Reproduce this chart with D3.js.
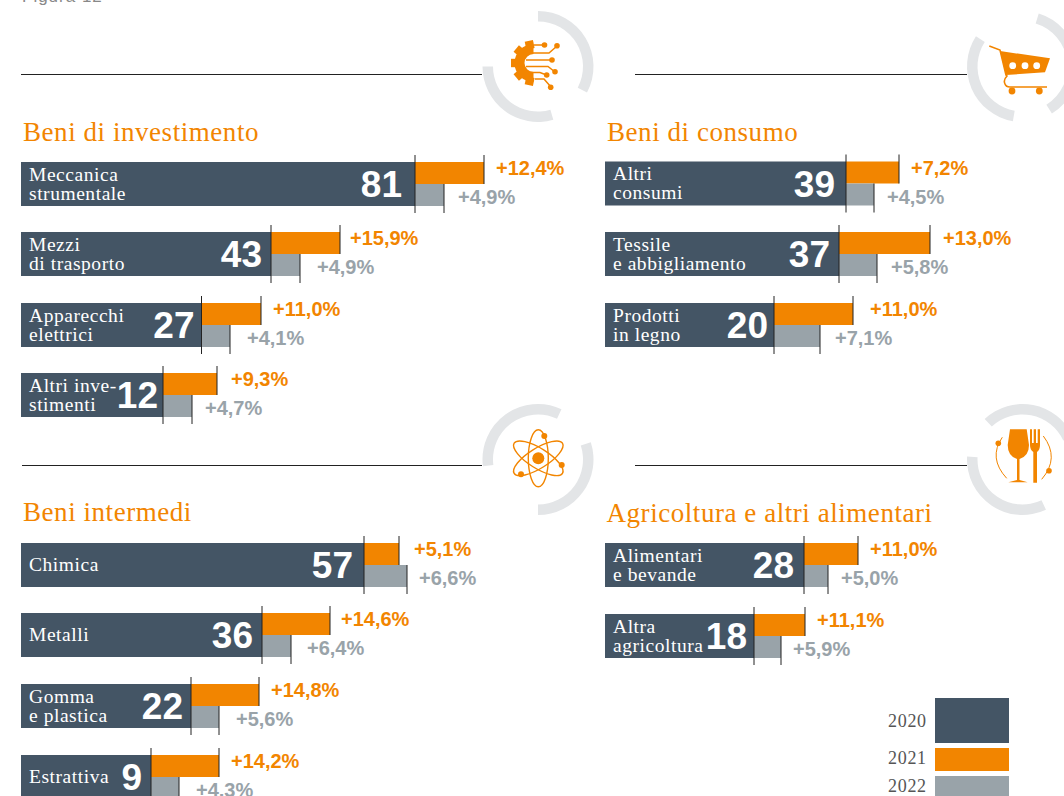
<!DOCTYPE html>
<html><head><meta charset="utf-8">
<script src="https://cdn.jsdelivr.net/npm/d3@7"></script>
<style>html,body{margin:0;padding:0;background:#fff;overflow:hidden}svg{display:block}</style>
</head><body><svg id="c" width="1064" height="796"></svg>
<script>
// Panels
const panelTitles = ["Beni di investimento","Beni di consumo","Beni intermedi","Agricoltura e altri alimentari"];
// Row labels per panel (line-broken as in the picture)
const labelsInvest = [["Meccanica","strumentale"],["Mezzi","di trasporto"],["Apparecchi","elettrici"],["Altri inve-","stimenti"]];
const labelsConsumo = [["Altri","consumi"],["Tessile","e abbigliamento"],["Prodotti","in legno"]];
const labelsIntermedi = [["Chimica"],["Metalli"],["Gomma","e plastica"],["Estrattiva"]];
const labelsAgri = [["Alimentari","e bevande"],["Altra","agricoltura"]];
// Printed 2020 values
const printed2020Invest = [81,43,27,12];
const printed2020Consumo = [39,37,20];
const printed2020Intermedi = [57,36,22,9];
const printed2020Agri = [28,18];
// Printed growth labels
const printed2021Invest = ["+12,4%","+15,9%","+11,0%","+9,3%"];
const printed2021Consumo = ["+7,2%","+13,0%","+11,0%"];
const printed2021Intermedi = ["+5,1%","+14,6%","+14,8%","+14,2%"];
const printed2021Agri = ["+11,0%","+11,1%"];
const printed2022Invest = ["+4,9%","+4,9%","+4,1%","+4,7%"];
const printed2022Consumo = ["+4,5%","+5,8%","+7,1%"];
const printed2022Intermedi = ["+6,6%","+6,4%","+5,6%","+4,3%"];
const printed2022Agri = ["+5,0%","+5,9%"];
// Drawn bar extents (the source's bars are not proportional to the printed figures)
const drawn2020Invest = [394,250,180.5,142];
const drawn2020Consumo = [241,234,169];
const drawn2020Intermedi = [343,241,170,130];
const drawn2020Agri = [199,149];
const drawn2021Invest = [69,69,59.5,54];
const drawn2021Consumo = [53,91,79];
const drawn2021Intermedi = [35,68,68,68];
const drawn2021Agri = [54,51];
const drawn2022Invest = [29,29,28.5,29];
const drawn2022Consumo = [28,38,46];
const drawn2022Intermedi = [43,29,28,28];
const drawn2022Agri = [24,27];
const legendYears = ["2020","2021","2022"];

const colors = {base:"#445565", o:"#f28500", g:"#99a3a9", ring:"#e3e5e7", ink:"#222"};
const serif = "'Liberation Serif',serif", sans = "'Liberation Sans',Arial,sans-serif";
const svg = d3.select("#c");
const x = d3.scaleLinear().domain([0,1]).range([0,1]);

svg.append("text").attr("x",22).attr("y",1.5).attr("font-family",sans)
  .attr("font-size",17).attr("letter-spacing",1).attr("fill","#888").text("Figura 12");

const panels = [
 {title:panelTitles[0],tx:23,ty:141,bx:21,rows:[162,232,303,373],lab:labelsInvest,p:printed2020Invest,d:drawn2020Invest,d1:drawn2021Invest,d2:drawn2022Invest,p1:printed2021Invest,p2:printed2022Invest,gn:[13,9,7,5],g1:[12,10,12,14],g2:[14,17,17,13]},
 {title:panelTitles[1],tx:607,ty:141,bx:605,rows:[161.5,232,303],lab:labelsConsumo,p:printed2020Consumo,d:drawn2020Consumo,d1:drawn2021Consumo,d2:drawn2022Consumo,p1:printed2021Consumo,p2:printed2022Consumo,gn:[11,9,6],g1:[12,13,17],g2:[13,14,15]},
 {title:panelTitles[2],tx:23,ty:521,bx:21,rows:[543,613,684,755],lab:labelsIntermedi,p:printed2020Intermedi,d:drawn2020Intermedi,d1:drawn2021Intermedi,d2:drawn2022Intermedi,p1:printed2021Intermedi,p2:printed2022Intermedi,gn:[11,9,8,9],g1:[15,11,12,12],g2:[12,16,17,17]},
 {title:panelTitles[3],tx:606.5,ty:522,bx:605,rows:[543,614],lab:labelsAgri,p:printed2020Agri,d:drawn2020Agri,d1:drawn2021Agri,d2:drawn2022Agri,p1:printed2021Agri,p2:printed2022Agri,gn:[10,7],g1:[12,12],g2:[13,12]}
];
const H=44;
panels.forEach(P=>{
  const g=svg.append("g");
  g.append("text").attr("x",P.tx).attr("y",P.ty).attr("font-family",serif).attr("font-size",27).attr("letter-spacing",0.55)
   .attr("fill",colors.o).text(P.title);
  const rows=g.selectAll("g.row").data(P.rows.map((y,i)=>({y,i}))).join("g").attr("transform",d=>`translate(${P.bx},${d.y})`);
  rows.append("rect").attr("width",d=>x(P.d[d.i])).attr("height",H).attr("fill",colors.base);
  rows.append("rect").attr("x",d=>x(P.d[d.i])).attr("width",d=>x(P.d1[d.i])).attr("height",H/2).attr("fill",colors.o);
  rows.append("rect").attr("x",d=>x(P.d[d.i])).attr("y",H/2).attr("width",d=>x(P.d2[d.i])).attr("height",H/2).attr("fill",colors.g);
  rows.append("line").attr("x1",d=>x(P.d[d.i])).attr("x2",d=>x(P.d[d.i])).attr("y1",-7).attr("y2",H+7).attr("stroke",colors.ink).attr("stroke-width",1);
  rows.append("line").attr("x1",d=>x(P.d[d.i]+P.d1[d.i])).attr("x2",d=>x(P.d[d.i]+P.d1[d.i])).attr("y1",-7).attr("y2",H/2).attr("stroke",colors.ink).attr("stroke-width",1);
  rows.append("line").attr("x1",d=>x(P.d[d.i]+P.d2[d.i])).attr("x2",d=>x(P.d[d.i]+P.d2[d.i])).attr("y1",H/2).attr("y2",H+7).attr("stroke",colors.ink).attr("stroke-width",1);
  rows.append("text").attr("x",d=>x(P.d[d.i])-P.gn[d.i]).attr("y",35).attr("text-anchor","end").attr("font-family",sans)
    .attr("font-weight",700).attr("font-size",37).attr("fill","#fff").text(d=>P.p[d.i]);
  rows.append("text").attr("x",d=>x(P.d[d.i]+P.d1[d.i])+P.g1[d.i]).attr("y",13).attr("font-family",sans)
    .attr("font-weight",700).attr("font-size",20).attr("fill",colors.o).text(d=>P.p1[d.i]);
  rows.append("text").attr("x",d=>x(P.d[d.i]+P.d2[d.i])+P.g2[d.i]).attr("y",42).attr("font-family",sans)
    .attr("font-weight",700).attr("font-size",20).attr("fill",colors.g).text(d=>P.p2[d.i]);
  rows.each(function(d){
    const L=P.lab[d.i], t=d3.select(this);
    L.forEach((s,k)=>t.append("text").attr("x",8).attr("y",L.length>1?(18.5+k*19):28)
      .attr("font-family",serif).attr("font-size",19.5).attr("letter-spacing",0.55).attr("fill","#fff").text(s));
  });
});

// Section rules
[[21,482,74.5],[635,967,74.5],[22,482,465.5],[635,967,465.5]].forEach(([a,b,y])=>
  svg.append("line").attr("x1",a).attr("x2",b).attr("y1",y).attr("y2",y).attr("stroke",colors.ink).attr("stroke-width",1));

// Rings
const deg=Math.PI/180;
const arc=d3.arc().innerRadius(45).outerRadius(55.5);
[[538,66.5,[[0,118],[164,270]]],[1022.5,66.5,[[190,303],[17,148]]],[538,459.5,[[-97,25],[72,180]]],[1022.5,459.5,[[155,273],[-43,65]]]]
 .forEach(([cx,cy,as])=>as.forEach(([s,e])=>
  svg.append("path").attr("transform",`translate(${cx},${cy})`).attr("fill",colors.ring)
    .attr("d",arc({startAngle:s*deg,endAngle:e*deg}))));

const dots=(g,pts,r)=>g.append("g").attr("stroke","none").attr("fill",colors.o).selectAll("circle").data(pts).join("circle")
  .attr("cx",d=>d[0]).attr("cy",d=>d[1]).attr("r",r);

// Icon: gear + circuit
(function(){
  const g=svg.append("g");
  const t=g.append("g").attr("transform","translate(533.5,63)").attr("fill",colors.o);
  t.append("path").attr("d",d3.arc().innerRadius(9).outerRadius(19)({startAngle:-180*deg,endAngle:0}));
  [-168,-130,-90,-50,-12].forEach(a=>t.append("rect").attr("x",-4.2).attr("y",-22.5).attr("width",8.4).attr("height",8)
     .attr("transform",`rotate(${a})`));
  const c=g.append("g").attr("fill","none").attr("stroke",colors.o).attr("stroke-width",1.5);
  c.append("path").attr("d","M534,45H545");
  c.append("path").attr("d","M528,53H549L557,46");
  c.append("path").attr("d","M526,60H552");
  c.append("path").attr("d","M526,66.5H548L555,72");
  c.append("path").attr("d","M530,72.5H540L546.5,75");
  c.append("path").attr("d","M535,79H544L551,87");
  dots(g,[[544.5,45],[557,45.7],[552,60],[555,71.7],[546.7,75],[550.7,87.3]],2.8);
})();

// Icon: cart
(function(){
  const g=svg.append("g");
  g.append("path").attr("fill",colors.o).attr("d","M1000,51L1050,58.3L1045,72.3L1006,75Z");
  g.append("path").attr("fill","none").attr("stroke",colors.o).attr("stroke-width",1.6)
    .attr("d","M989.3,46L1000,50L1006,75L1007,76Q1003,80 1005,84Q1006,87 1010,87H1047");
  g.append("g").attr("fill","#fff").selectAll("circle").data([[1012.7,65.7],[1025,65.7],[1036.7,65.7]]).join("circle")
    .attr("cx",d=>d[0]).attr("cy",d=>d[1]).attr("r",3.4);
  dots(g,[[1012,91],[1039.3,91]],3.4);
})();

// Icon: atom
(function(){
  const g=svg.append("g");
  const a=g.append("g").attr("transform","translate(538.3,458.3)");
  [0,58,-58].forEach(r=>a.append("ellipse").attr("rx",10).attr("ry",28.5).attr("fill","none")
    .attr("stroke",colors.o).attr("stroke-width",1.4).attr("transform",`rotate(${r})`));
  a.append("circle").attr("r",6).attr("fill",colors.o);
  dots(g,[[544.3,436],[561.7,465],[521,474.3]],3);
})();

// Icon: glass, fork
(function(){
  const g=svg.append("g").attr("fill",colors.o);
  g.append("path").attr("d","M1010,429.3H1026.7L1029,445Q1029,456 1019.5,459V480L1027.7,482.3H1008.3L1017,480V459Q1007.7,456 1007.7,445Z");
  g.append("path").attr("d","M1030,429.3H1032V443H1033.7V429.3H1036V443H1037.7V429.3H1040V445Q1040,450 1037,452V482.7H1033.3V452Q1030,450 1030,445Z");
  const c=g.append("g").attr("fill","none").attr("stroke",colors.o).attr("stroke-width",1);
  c.append("path").attr("d","M1002.3,437.3Q988,458 1006.7,478.3");
  c.append("path").attr("d","M1043.3,436Q1060,458 1041.7,479.3");
  dots(g,[[998.3,443.3],[1049,470.7]],2.8);
})();

// Legend
const legY=[698,748,776], legC=[colors.base,colors.o,colors.g];
legendYears.forEach((y,i)=>{
  svg.append("rect").attr("x",935).attr("y",legY[i]).attr("width",74).attr("height",[45,23,22][i]).attr("fill",legC[i]);
  svg.append("text").attr("x",888).attr("y",[727,764,792][i]).attr("font-family",serif).attr("font-size",18).attr("letter-spacing",0.7).attr("fill","#555").text(y);
});
</script></body></html>
